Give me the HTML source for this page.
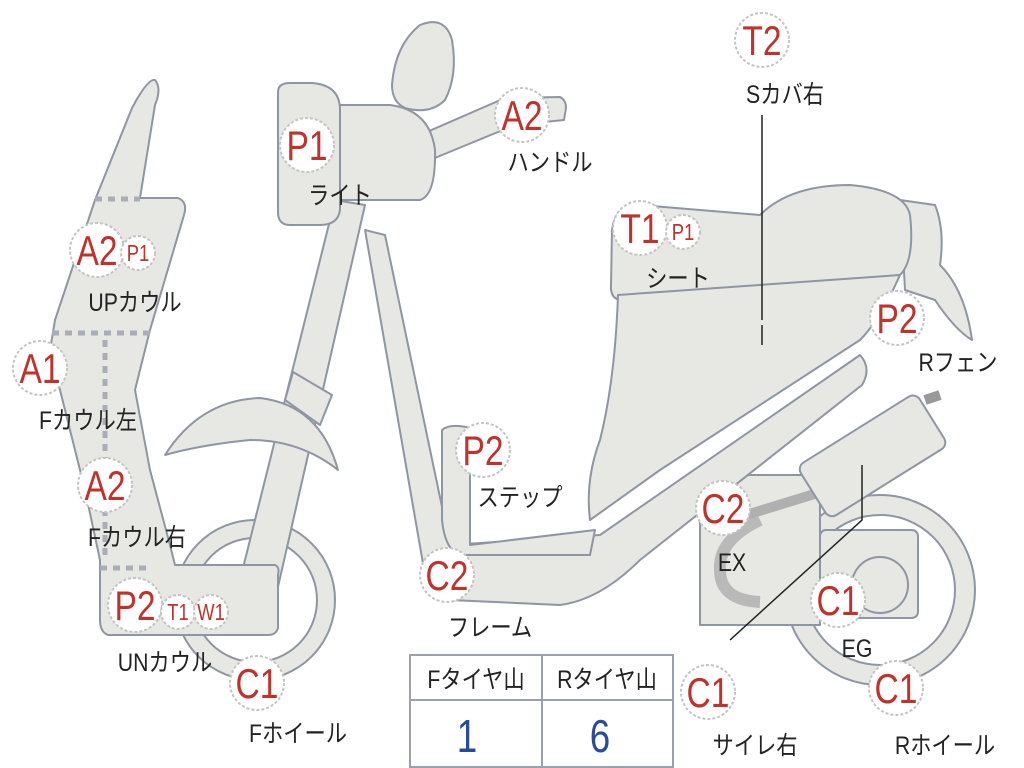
<!DOCTYPE html>
<html><head><meta charset="utf-8"><style>
html,body{margin:0;padding:0;background:#fff;width:1024px;height:768px;overflow:hidden}
svg{display:block}
.s{fill:#e7e7e3;stroke:#8e95a3;stroke-width:2;stroke-linejoin:round}
.c{fill:#fff;stroke:#c4c4c4;stroke-width:2;stroke-dasharray:3 2}
.r{fill:#c0322b;font-family:"Liberation Sans","Noto Sans CJK JP",sans-serif;text-anchor:middle}
.k{fill:#222;font-family:"Liberation Sans","Noto Sans CJK JP",sans-serif;font-size:25px;text-anchor:middle}
.d{stroke:#a8adb8;stroke-width:5;stroke-dasharray:7 6;fill:none}
</style></head><body>
<svg width="1024" height="768" viewBox="0 0 1024 768" xmlns="http://www.w3.org/2000/svg">
<circle cx="880" cy="590" r="95" class="s"/>
<circle cx="880" cy="590" r="75" fill="#fff" stroke="#8e95a3" stroke-width="2"/>
<path class="s" d="M900,200 L935,205 Q945,230 940,265 Q965,290 972,340 Q955,330 935,300 L905,290 Z"/>
<path class="s" d="M612,230 Q615,205 640,205 L760,215 Q790,185 850,185 Q905,190 910,215 Q915,260 900,275 L620,300 Q610,298 611,285 Z"/>
<path class="s" d="M618,295 L900,275 Q880,320 860,340 L660,470 L590,520 Q585,480 600,440 Q615,380 618,295 Z"/>
<rect x="700" y="475" width="120" height="150" class="s"/>
<rect x="820" y="530" width="98" height="88" rx="6" class="s"/>
<circle cx="880" cy="585" r="28" class="s"/>
<path d="M760,520 Q718,540 720,570 Q720,600 760,602" stroke="#b9b9b9" stroke-width="12" fill="none"/>
<path d="M730,520 L860,480" stroke="#b0b0b0" stroke-width="10"/>
<path d="M925,400 L940,395" stroke="#999" stroke-width="10"/>
<g transform="translate(872,455) rotate(-32)"><rect x="-70" y="-30" width="140" height="62" rx="8" class="s"/></g>
<path class="s" d="M365,230 L385,235 L450,545 L600,535 L860,355 Q872,368 862,385 L640,560 Q600,600 560,605 L450,600 Q428,598 425,575 Z"/>
<path class="s" d="M442,430 Q450,423 470,428 L470,545 L595,530 L590,555 L460,555 Q445,550 442,520 Z"/>
<circle cx="255" cy="600" r="80" class="s"/>
<circle cx="255" cy="600" r="62" fill="#fff" stroke="#8e95a3" stroke-width="2"/>
<path class="s" d="M335,200 L365,205 L275,600 L235,600 Z"/>
<path class="s" d="M165,455 Q200,400 260,398 Q320,405 338,470 Q300,440 250,440 Q200,445 165,455 Z"/>
<path class="s" d="M293,372 L332,395 L320,425 L285,400 Z"/>
<path class="s" d="M132,108 Q148,78 155,80 Q162,88 155,105 L140,198 L178,198 Q188,202 184,215 L150,330 L135,390 L150,470 L170,545 L175,565 L275,565 Q280,567 278,575 L278,628 Q276,635 268,635 L108,635 Q100,632 100,620 L100,560 L85,490 L50,350 L55,320 L95,200 Z"/>
<path class="d" d="M95,199 L140,199 M52,333 L150,333 M105,340 L105,560 M100,568 L150,568"/>
<path class="s" d="M392,85 Q395,45 420,25 Q445,15 452,40 Q458,75 445,100 Q430,115 405,108 Q392,102 392,85 Z"/>
<path class="s" d="M420,135 L505,98 L560,97 Q566,100 566,108 L564,120 L515,125 L430,160 Z"/>
<path class="s" d="M318,105 L390,105 Q430,110 435,150 Q436,195 420,200 L330,200 Z"/>
<path class="s" d="M278,92 Q278,83 290,83 L312,83 Q340,85 340,110 L340,210 Q338,225 320,225 L290,225 Q278,225 278,212 Z"/>
<path d="M762,115 L762,320 M762,325 L762,345" stroke="#222" stroke-width="1.5" fill="none"/>
<path d="M862,465 L862,520 L730,640" stroke="#222" stroke-width="1.5" fill="none"/>
<rect x="410" y="655" width="263" height="112" fill="#fff" stroke="#9aa1ad" stroke-width="2"/>
<line x1="410" y1="700" x2="673" y2="700" stroke="#9aa1ad" stroke-width="2"/>
<line x1="542" y1="655" x2="542" y2="767" stroke="#9aa1ad" stroke-width="2"/>
<g transform="translate(476,688) scale(.85,1)"><text class="k">Fタイヤ山</text></g>
<g transform="translate(607,688) scale(.85,1)"><text class="k">Rタイヤ山</text></g>
<g transform="translate(467,752) scale(.8,1)"><text class="k" style="fill:#2a4a9a;font-size:46px">1</text></g>
<g transform="translate(600,752) scale(.8,1)"><text class="k" style="fill:#2a4a9a;font-size:46px">6</text></g>
<g>
<circle class="c" cx="762" cy="40" r="27"/><circle class="c" cx="522" cy="115" r="27"/>
<circle class="c" cx="307" cy="145" r="27"/><circle class="c" cx="640" cy="228" r="27"/>
<circle class="c" cx="683" cy="232" r="17"/><circle class="c" cx="97" cy="250" r="27"/>
<circle class="c" cx="138" cy="253" r="17"/><circle class="c" cx="897" cy="318" r="27"/>
<circle class="c" cx="40" cy="368" r="27"/><circle class="c" cx="483" cy="450" r="27"/>
<circle class="c" cx="105" cy="485" r="27"/><circle class="c" cx="723" cy="508" r="27"/>
<circle class="c" cx="447" cy="575" r="27"/><circle class="c" cx="135" cy="605" r="27"/>
<circle class="c" cx="178" cy="612" r="17"/><circle class="c" cx="211" cy="612" r="17"/>
<circle class="c" cx="838" cy="600" r="27"/><circle class="c" cx="257" cy="683" r="27"/>
<circle class="c" cx="708" cy="692" r="27"/><circle class="c" cx="896" cy="688" r="27"/>
</g>
<g style="font-size:42px">
<g transform="translate(762,55) scale(.8,1)"><text class="r">T2</text></g>
<g transform="translate(522,130) scale(.8,1)"><text class="r">A2</text></g>
<g transform="translate(307,160) scale(.8,1)"><text class="r">P1</text></g>
<g transform="translate(640,243) scale(.8,1)"><text class="r">T1</text></g>
<g transform="translate(97,265) scale(.8,1)"><text class="r">A2</text></g>
<g transform="translate(897,333) scale(.8,1)"><text class="r">P2</text></g>
<g transform="translate(40,383) scale(.8,1)"><text class="r">A1</text></g>
<g transform="translate(483,465) scale(.8,1)"><text class="r">P2</text></g>
<g transform="translate(105,500) scale(.8,1)"><text class="r">A2</text></g>
<g transform="translate(723,523) scale(.8,1)"><text class="r">C2</text></g>
<g transform="translate(447,590) scale(.8,1)"><text class="r">C2</text></g>
<g transform="translate(135,620) scale(.8,1)"><text class="r">P2</text></g>
<g transform="translate(838,615) scale(.8,1)"><text class="r">C1</text></g>
<g transform="translate(257,698) scale(.8,1)"><text class="r">C1</text></g>
<g transform="translate(708,707) scale(.8,1)"><text class="r">C1</text></g>
<g transform="translate(896,703) scale(.8,1)"><text class="r">C1</text></g>
</g>
<g style="font-size:23px">
<g transform="translate(683,240) scale(.8,1)"><text class="r">P1</text></g>
<g transform="translate(138,261) scale(.8,1)"><text class="r">P1</text></g>
<g transform="translate(178,620) scale(.8,1)"><text class="r">T1</text></g>
<g transform="translate(211,620) scale(.8,1)"><text class="r">W1</text></g>
</g>
<g transform="translate(785,103) scale(.85,1)"><text class="k">Sカバ右</text></g>
<g transform="translate(550,171) scale(.85,1)"><text class="k">ハンドル</text></g>
<g transform="translate(340,204) scale(.85,1)"><text class="k">ライト</text></g>
<g transform="translate(678,287) scale(.85,1)"><text class="k">シート</text></g>
<g transform="translate(135,311) scale(.85,1)"><text class="k">UPカウル</text></g>
<g transform="translate(958,371) scale(.85,1)"><text class="k">Rフェン</text></g>
<g transform="translate(88,429) scale(.85,1)"><text class="k">Fカウル左</text></g>
<g transform="translate(520,506) scale(.85,1)"><text class="k">ステップ</text></g>
<g transform="translate(137,546) scale(.85,1)"><text class="k">Fカウル右</text></g>
<g transform="translate(732,571) scale(.85,1)"><text class="k">EX</text></g>
<g transform="translate(490,636) scale(.85,1)"><text class="k">フレーム</text></g>
<g transform="translate(165,671) scale(.85,1)"><text class="k">UNカウル</text></g>
<g transform="translate(857,657) scale(.85,1)"><text class="k">EG</text></g>
<g transform="translate(298,742) scale(.85,1)"><text class="k">Fホイール</text></g>
<g transform="translate(755,754) scale(.85,1)"><text class="k">サイレ右</text></g>
<g transform="translate(945,754) scale(.85,1)"><text class="k">Rホイール</text></g>
</svg>
</body></html>
